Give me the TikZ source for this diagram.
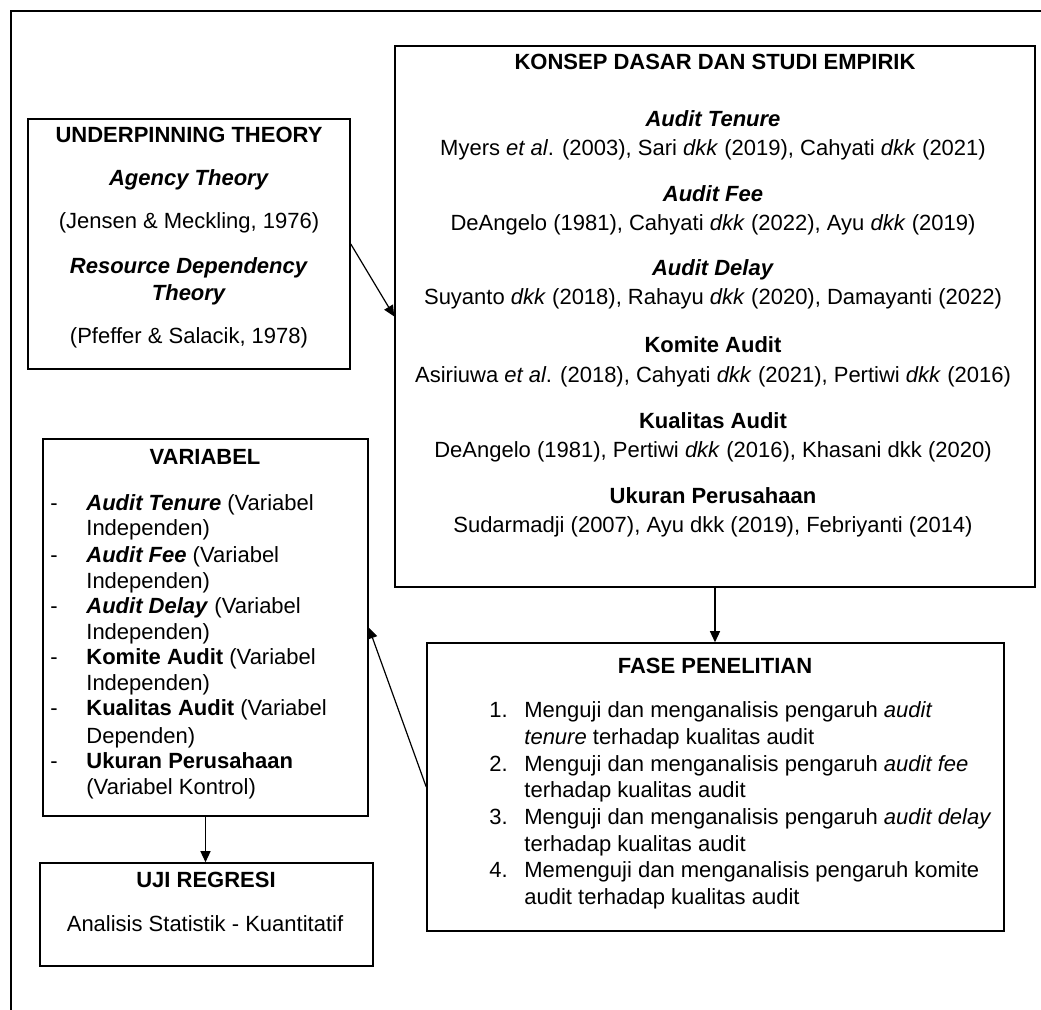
\documentclass[tikz,border=0pt]{standalone}
\usepackage{fontspec}
\setmainfont{Liberation Sans}
\usetikzlibrary{arrows.meta,fit}
\begin{document}
\begin{tikzpicture}[x=0.5pt,y=-0.5pt,
  box/.style={draw, line width=0.75pt, inner sep=0pt},
  conn/.style={line width=0.6pt, -{Triangle[width=5pt,length=5.5pt]}},
  txt/.style={inner sep=0pt, anchor=base, font=\fontsize{11pt}{13pt}\selectfont},
  txtl/.style={txt, anchor=base west}]
\useasboundingbox (0,0) rectangle (1041,1010);
% outer frame (top and left only)
\coordinate (fa) at (11,1010);
\coordinate (fb) at (11,11);
\coordinate (fc) at (1041,11);
\draw[line width=1.3pt] (fa) -- (fb) -- (fc);

% boxes
\node[box, fit={(28,119) (350,369)}] (under) {};
\node[box, fit={(395,46) (1035,587)}] (konsep) {};
\node[box, fit={(43,439) (368,816)}] (var) {};
\node[box, fit={(40,863) (373,966)}] (uji) {};
\node[box, fit={(427,643) (1004,931)}] (fase) {};

% UNDERPINNING THEORY
\node[txt] (u1) at (189,143) {\textbf{UNDERPINNING THEORY}};
\node[txt] (u2) at (189,186) {\textbf{\textit{Agency Theory}}};
\node[txt] (u3) at (189,229) {(Jensen \& Meckling, 1976)};
\node[txt] (u4) at (189,274) {\textbf{\textit{Resource Dependency}}};
\node[txt] (u5) at (189,301) {\textbf{\textit{Theory}}};
\node[txt] (u6) at (189,344) {(Pfeffer \& Salacik, 1978)};

% KONSEP DASAR
\node[txt] (k0) at (715,70) {\textbf{KONSEP DASAR DAN STUDI EMPIRIK}};
\node[txt] (k1) at (713,127) {\textbf{\textit{Audit Tenure}}};
\node[txt] (k2) at (713,156) {Myers \textit{et al}. (2003), Sari \textit{dkk} (2019), Cahyati \textit{dkk} (2021)};
\node[txt] (k3) at (713,202) {\textbf{\textit{Audit Fee}}};
\node[txt] (k4) at (713,231) {DeAngelo (1981), Cahyati \textit{dkk} (2022), Ayu \textit{dkk} (2019)};
\node[txt] (k5) at (713,276) {\textbf{\textit{Audit Delay}}};
\node[txt] (k6) at (713,305) {Suyanto \textit{dkk} (2018), Rahayu \textit{dkk} (2020), Damayanti (2022)};
\node[txt] (k7) at (713,353) {\textbf{Komite Audit}};
\node[txt] (k8) at (713,383) {Asiriuwa \textit{et al}. (2018), Cahyati \textit{dkk} (2021), Pertiwi \textit{dkk} (2016)};
\node[txt] (k9) at (713,429) {\textbf{Kualitas Audit}};
\node[txt] (k10) at (713,458) {DeAngelo (1981), Pertiwi \textit{dkk} (2016), Khasani dkk (2020)};
\node[txt] (k11) at (713,504) {\textbf{Ukuran Perusahaan}};
\node[txt] (k12) at (713,533) {Sudarmadji (2007), Ayu dkk (2019), Febriyanti (2014)};

% VARIABEL
\node[txt] (v0) at (205,465) {\textbf{VARIABEL}};
\node[txtl] (d1) at (50,511) {-};
\node[txtl] (v1) at (86,511) {\textbf{\textit{Audit Tenure}} (Variabel};
\node[txtl] (v2) at (86,536) {Independen)};
\node[txtl] (d2) at (50,563) {-};
\node[txtl] (v3) at (86,563) {\textbf{\textit{Audit Fee}} (Variabel};
\node[txtl] (v4) at (86,589) {Independen)};
\node[txtl] (d3) at (50,614) {-};
\node[txtl] (v5) at (86,614) {\textbf{\textit{Audit Delay}} (Variabel};
\node[txtl] (v6) at (86,640) {Independen)};
\node[txtl] (d4) at (50,665) {-};
\node[txtl] (v7) at (86,665) {\textbf{Komite Audit} (Variabel};
\node[txtl] (v8) at (86,691) {Independen)};
\node[txtl] (d5) at (50,716) {-};
\node[txtl] (v9) at (86,716) {\textbf{Kualitas Audit} (Variabel};
\node[txtl] (v10) at (86,744) {Dependen)};
\node[txtl] (d6) at (50,769) {-};
\node[txtl] (v11) at (86,769) {\textbf{Ukuran Perusahaan}};
\node[txtl] (v12) at (86,795) {(Variabel Kontrol)};

% UJI REGRESI
\node[txt] (r1) at (206,888) {\textbf{UJI REGRESI}};
\node[txt] (r2) at (205,932) {Analisis Statistik - Kuantitatif};

% FASE PENELITIAN
\node[txt] (f0) at (715,674) {\textbf{FASE PENELITIAN}};
\node[txtl] (n1) at (489,718) {1.};
\node[txtl] (f1) at (524,718) {Menguji dan menganalisis pengaruh \textit{audit}};
\node[txtl] (f2) at (524,745) {\textit{tenure} terhadap kualitas audit};
\node[txtl] (n2) at (489,772) {2.};
\node[txtl] (f3) at (524,772) {Menguji dan menganalisis pengaruh \textit{audit fee}};
\node[txtl] (f4) at (524,798) {terhadap kualitas audit};
\node[txtl] (n3) at (489,825) {3.};
\node[txtl] (f5) at (524,825) {Menguji dan menganalisis pengaruh \textit{audit delay}};
\node[txtl] (f6) at (524,852) {terhadap kualitas audit};
\node[txtl] (n4) at (489,878) {4.};
\node[txtl] (f7) at (524,878) {Memenguji dan menganalisis pengaruh komite};
\node[txtl] (f8) at (524,905) {audit terhadap kualitas audit};

% connectors
\draw[conn] (under.east) -- (konsep.west);
\draw[conn] (konsep.south) -- (konsep.south |- fase.north);
\draw[conn] (fase.west) -- (var.east);
\draw[conn] (var.south) -- (var.south |- uji.north);
\end{tikzpicture}
\end{document}
